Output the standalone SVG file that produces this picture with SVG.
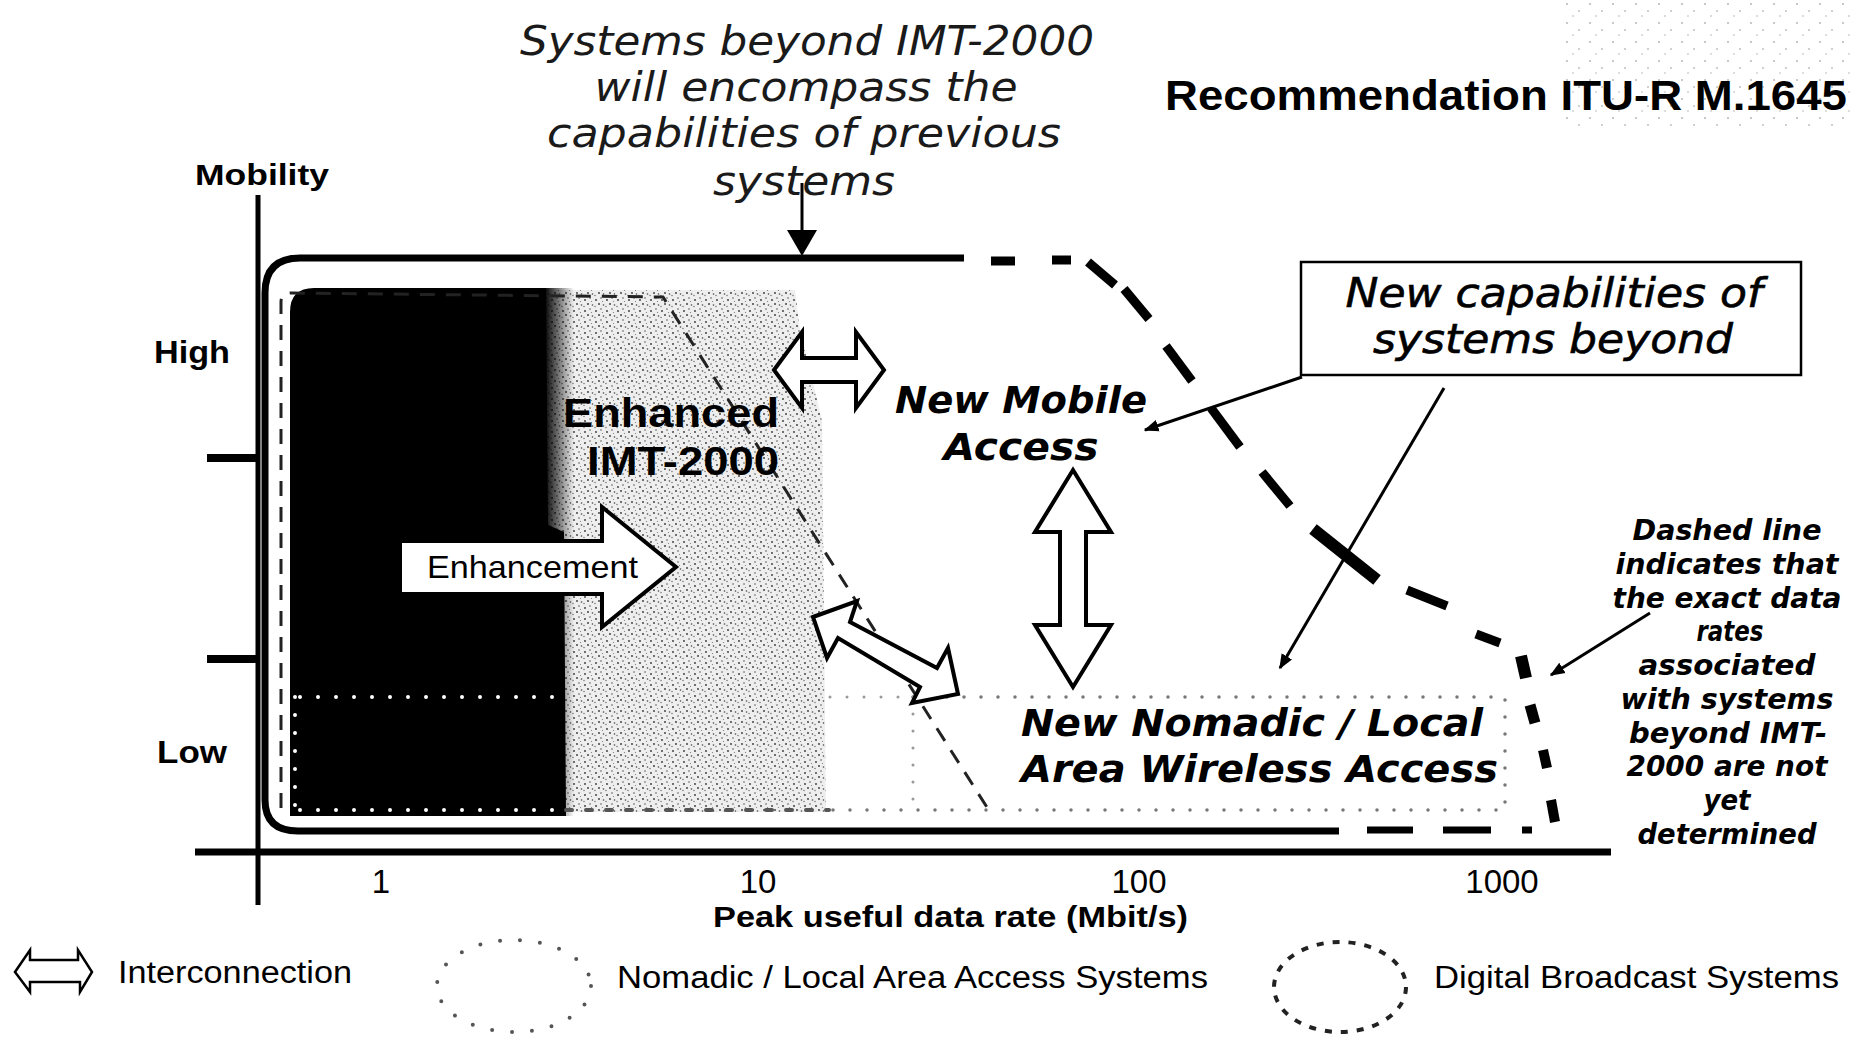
<svg xmlns="http://www.w3.org/2000/svg" width="1854" height="1037" viewBox="0 0 1854 1037">
<style>
.it{font-family:"DejaVu Sans","Verdana",sans-serif;font-style:italic;fill:#1a1a1a}
.bi{font-family:"DejaVu Sans","Verdana",sans-serif;font-style:italic;font-weight:bold;fill:#000}
.b{font-family:"Liberation Sans",Arial,sans-serif;font-weight:bold;fill:#000}
.n{font-family:"Liberation Sans",Arial,sans-serif;fill:#000}
.blk{fill:#fff;stroke:#000;stroke-width:4;stroke-linejoin:miter}
.dash{stroke:#000;stroke-width:9;stroke-linecap:butt;fill:none}
.conn{stroke:#000;stroke-width:3;fill:none}
</style>
<defs>
<pattern id="speck" width="11" height="11" patternUnits="userSpaceOnUse">
<rect width="11" height="11" fill="#eeeeee"/>
<circle cx="2" cy="3" r="0.9" fill="#333"/>
<circle cx="7" cy="1" r="0.8" fill="#555"/>
<circle cx="5" cy="7" r="0.9" fill="#333"/>
<circle cx="9.5" cy="8" r="0.8" fill="#444"/>
<circle cx="1" cy="9.5" r="0.7" fill="#666"/>
<circle cx="8.5" cy="4.5" r="0.6" fill="#777"/>
</pattern>
<pattern id="sparse" width="23" height="19" patternUnits="userSpaceOnUse">
<circle cx="3" cy="4" r="0.8" fill="#666"/>
<circle cx="15" cy="11" r="0.8" fill="#777"/>
<circle cx="9" cy="16" r="0.7" fill="#888"/>
</pattern>
<linearGradient id="fuzz" x1="0" x2="1" y1="0" y2="0">
<stop offset="0" stop-color="#000" stop-opacity="1"/>
<stop offset="1" stop-color="#000" stop-opacity="0"/>
</linearGradient>
<marker id="ah" viewBox="0 0 10 10" refX="9" refY="5" markerWidth="5" markerHeight="5" orient="auto" markerUnits="strokeWidth">
<path d="M0,1 L10,5 L0,9 Z" fill="#000"/>
</marker>
</defs>
<rect width="1854" height="1037" fill="#fff"/>
<rect x="1560" y="0" width="294" height="128" fill="url(#sparse)" opacity="0.8"/>

<g id="title">
<text class="it" font-size="40" x="807" y="55" text-anchor="middle" textLength="574" lengthAdjust="spacingAndGlyphs">Systems beyond IMT-2000</text>
<text class="it" font-size="40" x="806" y="101" text-anchor="middle" textLength="423" lengthAdjust="spacingAndGlyphs">will encompass the</text>
<text class="it" font-size="40" x="804" y="147" text-anchor="middle" textLength="514" lengthAdjust="spacingAndGlyphs">capabilities of previous</text>
<text class="it" font-size="40" x="804" y="195" text-anchor="middle" textLength="182" lengthAdjust="spacingAndGlyphs">systems</text>
</g>
<g id="recommendation">
<text class="b" font-size="42" x="1165" y="110" textLength="682" lengthAdjust="spacingAndGlyphs">Recommendation ITU-R M.1645</text>
</g>

<g id="enhanced-region">
<path d="M545,290 L795,290 L800,330 L822,420 L826,812 L545,812 Z" fill="url(#speck)"/>
</g>
<g id="imt2000-region">
<path d="M290,312 Q290,288 314,288 L546,288 L548,525 L564,532 L566,816 L290,816 Z" fill="#000"/>
<rect x="544" y="288" width="30" height="528" fill="url(#fuzz)"/>
</g>

<g id="enhanced-boundary">
<path d="M281,808 L281,302 Q281,293 292,293 L663,297 L990,812" fill="none" stroke="#222" stroke-width="3" stroke-dasharray="15 11"/>
</g>

<g id="nomadic-area">
<path d="M913,697 L1505,697 L1505,810 L829,810" fill="none" stroke="#777" stroke-width="3.5" stroke-linecap="round" stroke-dasharray="0 17"/>
<path d="M830,697 L913,697 M913,697 L913,810" fill="none" stroke="#999" stroke-width="3" stroke-linecap="round" stroke-dasharray="0 17"/>
<path d="M566,810 L829,810" fill="none" stroke="#555" stroke-width="4" stroke-linecap="round" stroke-dasharray="6 14"/>
<path d="M300,697 L560,697 M300,810 L560,810 M295,697 L295,810" fill="none" stroke="#fff" stroke-width="4" stroke-linecap="round" stroke-dasharray="0 18"/>
</g>

<g id="outer-boundary">
<path d="M964,258 L300,258 Q265,258 265,293 L265,800 Q265,831 298,831 L1339,831" fill="none" stroke="#000" stroke-width="7"/>
<g class="dash">
<line x1="991" y1="261" x2="1015" y2="261"/>
<line x1="1052" y1="260" x2="1071" y2="260"/>
<line x1="1088" y1="262" x2="1115" y2="285"/>
<line x1="1124" y1="289" x2="1149" y2="319"/>
<line x1="1166" y1="346" x2="1192" y2="381"/>
<line x1="1211" y1="408" x2="1240" y2="447"/>
<line x1="1262" y1="472" x2="1290" y2="506"/>
<line x1="1313" y1="529" x2="1377" y2="580" stroke-width="12"/>
<line x1="1407" y1="590" x2="1447" y2="606"/>
<line x1="1476" y1="634" x2="1500" y2="643"/>
<line x1="1521" y1="656" x2="1526" y2="678" stroke-width="12"/>
<line x1="1530" y1="705" x2="1535" y2="723" stroke-width="11"/>
<line x1="1543" y1="750" x2="1547" y2="768" stroke-width="10"/>
<line x1="1551" y1="800" x2="1555" y2="822" stroke-width="10"/>
<line x1="1367" y1="830" x2="1413" y2="830" stroke-width="7"/>
<line x1="1443" y1="830" x2="1491" y2="830" stroke-width="7"/>
<line x1="1522" y1="830" x2="1532" y2="830" stroke-width="7"/>
</g>
</g>

<g id="axes">
<line x1="258" y1="195" x2="258" y2="905" stroke="#000" stroke-width="5"/>
<line x1="195" y1="852" x2="1611" y2="852" stroke="#000" stroke-width="7"/>
<line x1="207" y1="458" x2="258" y2="458" stroke="#000" stroke-width="8"/>
<line x1="207" y1="659" x2="258" y2="659" stroke="#000" stroke-width="8"/>
<text class="b" font-size="30" x="195" y="185" textLength="134" lengthAdjust="spacingAndGlyphs">Mobility</text>
<text class="b" font-size="31" x="154" y="363" textLength="76" lengthAdjust="spacingAndGlyphs">High</text>
<text class="b" font-size="31" x="157" y="763" textLength="70" lengthAdjust="spacingAndGlyphs">Low</text>
<text class="n" font-size="33" x="381" y="893" text-anchor="middle">1</text>
<text class="n" font-size="33" x="758" y="893" text-anchor="middle">10</text>
<text class="n" font-size="33" x="1139" y="893" text-anchor="middle">100</text>
<text class="n" font-size="33" x="1502" y="893" text-anchor="middle">1000</text>
<text class="b" font-size="30" x="713" y="927" textLength="475" lengthAdjust="spacingAndGlyphs">Peak useful data rate (Mbit/s)</text>
</g>

<g id="enhanced-label">
<text class="b" font-size="40" x="671" y="427" text-anchor="middle" textLength="216" lengthAdjust="spacingAndGlyphs">Enhanced</text>
<text class="b" font-size="40" x="683" y="475" text-anchor="middle" textLength="192" lengthAdjust="spacingAndGlyphs">IMT-2000</text>
</g>

<g id="enhancement-arrow">
<polygon class="blk" points="400,541 602,541 602,507 676,567 602,627 602,594 400,594"/>
<text class="n" font-size="32" x="427" y="578" textLength="211" lengthAdjust="spacingAndGlyphs">Enhancement</text>
</g>

<g id="interconnection-horizontal">
<polygon class="blk" points="774,370 802,332 802,358 856,358 856,332 884,370 856,408 856,382 802,382 802,408"/>
</g>
<g id="interconnection-vertical">
<polygon class="blk" points="1073,470 1111,532 1086,532 1086,625 1111,625 1073,687 1035,625 1060,625 1060,532 1035,532"/>
</g>
<g id="interconnection-diagonal">
<polygon class="blk" points="813,617 857,601 850,622 937,668 948,648 958,694 912,703 920,687 838,638 827,658"/>
</g>

<g id="new-mobile-access">
<text class="bi" font-size="38" x="1021" y="413" text-anchor="middle" textLength="252" lengthAdjust="spacingAndGlyphs">New Mobile</text>
<text class="bi" font-size="38" x="1021" y="460" text-anchor="middle" textLength="155" lengthAdjust="spacingAndGlyphs">Access</text>
</g>

<g id="new-nomadic">
<text class="bi" font-size="37" x="1021" y="736" textLength="462" lengthAdjust="spacingAndGlyphs">New Nomadic / Local</text>
<text class="bi" font-size="37" x="1021" y="782" textLength="477" lengthAdjust="spacingAndGlyphs">Area Wireless Access</text>
</g>

<g id="new-capabilities-box">
<rect x="1301" y="262" width="500" height="113" fill="#fff" stroke="#000" stroke-width="2.5"/>
<text class="it" font-size="40" x="1554" y="307" text-anchor="middle" textLength="417" lengthAdjust="spacingAndGlyphs" style="fill:#000;stroke:#000;stroke-width:0.6">New capabilities of</text>
<text class="it" font-size="40" x="1553" y="353" text-anchor="middle" textLength="360" lengthAdjust="spacingAndGlyphs" style="fill:#000;stroke:#000;stroke-width:0.6">systems beyond</text>
</g>

<g id="dashed-note">
<text class="bi" font-size="29" x="1727" y="540" text-anchor="middle" textLength="189" lengthAdjust="spacingAndGlyphs">Dashed line</text>
<text class="bi" font-size="29" x="1727" y="574" text-anchor="middle" textLength="223" lengthAdjust="spacingAndGlyphs">indicates that</text>
<text class="bi" font-size="29" x="1727" y="608" text-anchor="middle" textLength="229" lengthAdjust="spacingAndGlyphs">the exact data</text>
<text class="bi" font-size="29" x="1730" y="641" text-anchor="middle" textLength="67" lengthAdjust="spacingAndGlyphs">rates</text>
<text class="bi" font-size="29" x="1727" y="675" text-anchor="middle" textLength="177" lengthAdjust="spacingAndGlyphs">associated</text>
<text class="bi" font-size="29" x="1727" y="709" text-anchor="middle" textLength="213" lengthAdjust="spacingAndGlyphs">with systems</text>
<text class="bi" font-size="29" x="1728" y="743" text-anchor="middle" textLength="198" lengthAdjust="spacingAndGlyphs">beyond IMT-</text>
<text class="bi" font-size="29" x="1727" y="776" text-anchor="middle" textLength="201" lengthAdjust="spacingAndGlyphs">2000 are not</text>
<text class="bi" font-size="29" x="1727" y="810" text-anchor="middle" textLength="47" lengthAdjust="spacingAndGlyphs">yet</text>
<text class="bi" font-size="29" x="1727" y="844" text-anchor="middle" textLength="179" lengthAdjust="spacingAndGlyphs">determined</text>
</g>

<g id="connectors">
<line x1="802" y1="183" x2="802" y2="232" stroke="#000" stroke-width="3"/>
<polygon points="787,230 817,230 802,256" fill="#000"/>
<line class="conn" x1="1302" y1="377" x2="1145" y2="430" marker-end="url(#ah)"/>
<line class="conn" x1="1444" y1="388" x2="1280" y2="668" marker-end="url(#ah)"/>
<line class="conn" x1="1650" y1="613" x2="1551" y2="675" marker-end="url(#ah)"/>
</g>

<g id="legend-interconnection">
<polygon points="15,972 30,950 30,960 78,960 78,950 92,972 80,992 80,982 30,982 30,992" fill="#fff" stroke="#000" stroke-width="2.5"/>
<text class="n" font-size="31" x="118" y="983" textLength="234" lengthAdjust="spacingAndGlyphs">Interconnection</text>
</g>
<g id="legend-nomadic">
<ellipse cx="514" cy="986" rx="77" ry="46" fill="none" stroke="#555" stroke-width="4" stroke-linecap="round" stroke-dasharray="0 20"/>
<text class="n" font-size="31" x="617" y="988" textLength="591" lengthAdjust="spacingAndGlyphs">Nomadic / Local Area Access Systems</text>
</g>
<g id="legend-broadcast">
<ellipse cx="1340" cy="987" rx="66" ry="45" fill="none" stroke="#222" stroke-width="4" stroke-dasharray="7 9"/>
<text class="n" font-size="31" x="1434" y="988" textLength="405" lengthAdjust="spacingAndGlyphs">Digital Broadcast Systems</text>
</g>
</svg>
